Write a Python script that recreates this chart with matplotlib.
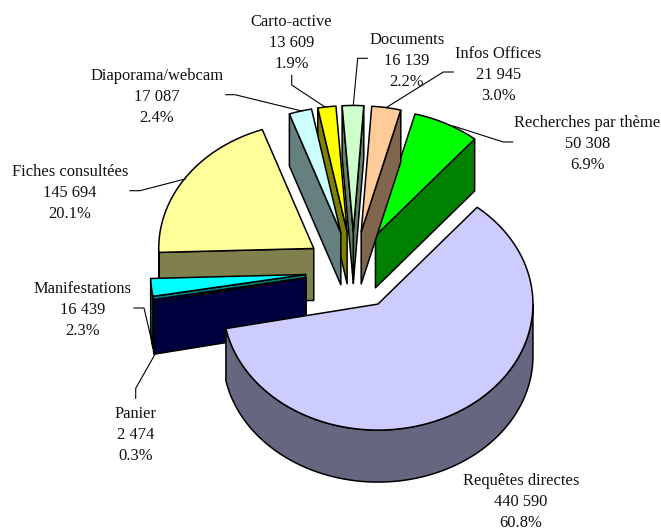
import numpy as np
import matplotlib
matplotlib.use('Agg')
import matplotlib.pyplot as plt
from matplotlib.patches import Polygon

# Valeurs (sens anti-horaire depuis Recherches)
noms = ['Recherches par thème', 'Infos Offices', 'Documents', 'Carto-active',
        'Diaporama/webcam', 'Fiches consultées', 'Manifestations', 'Panier',
        'Requêtes directes']
valeurs = [50308, 21945, 16139, 13609, 17087, 145694, 16439, 2474, 440590]
couleurs = ['#00FF00', '#FFCC99', '#CCFFCC', '#FFFF00', '#CCFFFF', '#FFFF99',
            '#00FFFF', '#000080', '#CCCCFF']
cotes = ['#008000', '#80664C', '#668066', '#808000', '#668080', '#80804C',
         '#008080', '#000040', '#666680']

# Geometrie de la tarte
cx, cy = 353.4, 270.5
a, b = 155.0, 126.0
prof = 52.0
eclat = 0.31
depart = 50.2

# Centre des etiquettes et traits de rappel
pos_etiq = [(587.5, 144), (498.5, 75), (406.7, 61), (291.5, 43), (156.7, 97),
            (70, 193), (82.8, 310), (135.8, 435), (521, 502)]
rappels = [[(512.7, 142), (503.3, 142), (453.3, 126)],
           [(453.3, 72), (443.3, 72), (386.7, 107.3)],
           [(367.3, 58.3), (357.7, 58.3), (353.3, 105)],
           [(291.7, 75.3), (291.7, 85), (325, 107)],
           [(225.7, 94.7), (235, 94.7), (301.7, 111)],
           [(130, 190.7), (140, 190.7), (185, 179)],
           [(134, 308), (144, 308), (153.3, 348)],
           [(135.7, 398.3), (135.7, 388.3), (155, 354.3)]]

fig = plt.figure(figsize=(6.61, 5.31), dpi=100)
ax = fig.add_axes([0, 0, 1, 1])
ax.set_xlim(0, 661)
ax.set_ylim(531, 0)
ax.axis('off')

total = sum(valeurs)
lw = 1.1


def point(x0, y0, t):
    t = np.radians(t)
    return x0 + a * np.cos(t), y0 - b * np.sin(t)


t1 = depart
for nom, v, coul, cote in zip(noms, valeurs, couleurs, cotes):
    dt = 360.0 * v / total
    t2 = t1 + dt
    tm = np.radians(t1 + dt / 2)
    x0 = cx + eclat * a * np.cos(tm)
    y0 = cy - eclat * b * np.sin(tm)

    # faces de coupe visibles
    for t, visible in [(t1, np.cos(np.radians(t1)) > 0), (t2, np.cos(np.radians(t2)) < 0)]:
        if visible:
            x, y = point(x0, y0, t)
            ax.add_patch(Polygon([(x0, y0), (x, y), (x, y + prof), (x0, y0 + prof)],
                                 fc=cote, ec='black', lw=lw, joinstyle='round'))

    # bord exterieur, seulement pour la moitie avant
    debut, fin = max(t1, 180), min(t2, 360)
    if fin > debut:
        tt = np.linspace(debut, fin, 150)
        x, y = point(x0, y0, tt)
        pts = list(zip(x, y)) + list(zip(x[::-1], y[::-1] + prof))
        ax.add_patch(Polygon(pts, fc=cote, ec='black', lw=lw, joinstyle='round'))

    # dessus
    tt = np.linspace(t1, t2, 150)
    x, y = point(x0, y0, tt)
    ax.add_patch(Polygon([(x0, y0)] + list(zip(x, y)), fc=coul, ec='black', lw=lw,
                         joinstyle='round'))
    t1 = t2

for r in rappels:
    ax.plot([p[0] for p in r], [p[1] for p in r], color='black', lw=0.8)

for nom, v, (x, y) in zip(noms, valeurs, pos_etiq):
    txt = nom + '\n' + f'{v:,}'.replace(',', ' ') + '\n' + f'{100 * v / total:.1f}%'
    ax.text(x, y, txt, ha='center', va='center', multialignment='center',
            family='Liberation Serif', fontsize=11.9, color='#111111', linespacing=1.44)

plt.savefig('out.png', dpi=100)
